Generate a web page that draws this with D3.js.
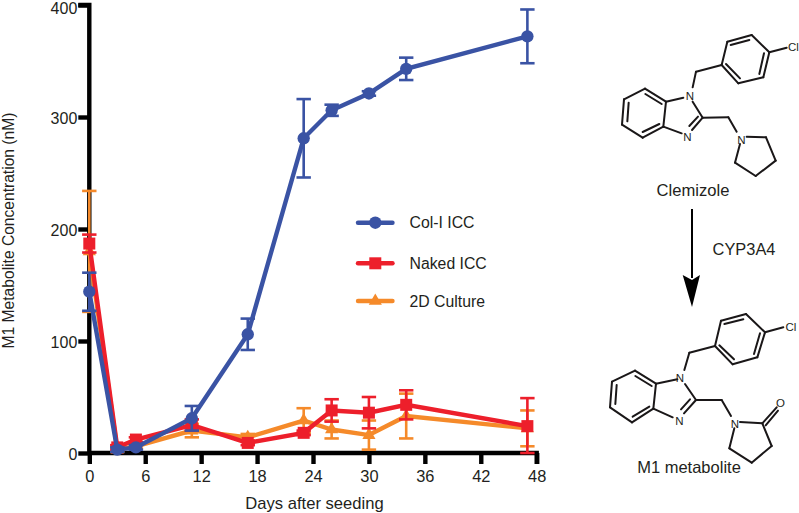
<!DOCTYPE html>
<html><head><meta charset="utf-8">
<script src="https://cdn.jsdelivr.net/npm/d3@7"></script>
<style>html,body{margin:0;padding:0;background:#fff}svg{display:block}text{font-family:"Liberation Sans",Arial,sans-serif;fill:#231f20}</style>
</head><body><svg id="c" width="799" height="513"></svg>
<script>
const days=[0,3,5,11,17,23,26,30,34,47];
const colI=[144,3,5,31,106,281,306,321,343,372];
const colIErr=[17,2,2,11,14,35,5,2,10,24];
const naked=[187,5,12,25,9,18,38,36,43,24];
const nakedErr=[8,2,2,5,2,2,10,14,13,25];
const culture=[180,3,6,20,14,29,21,16,33,22];
const cultureErr=[54,2,2,6,3,11,8,13,20,16];
const xTicks=[0,6,12,18,24,30,36,42,48];
const yTicks=[0,100,200,300,400];
const legendLabels=["Col-I ICC","Naked ICC","2D Culture"];
const colors=["#3a53a4","#ed1f2b","#f58a2a"];
const shapes=[d3.symbolCircle,d3.symbolSquare,d3.symbolTriangle];
const shapeSizes=[120,144,75];
const clemizoleBonds=[
[135,266,198,305],[198,305,190,380],[190,380,128,413],[128,413,66,374],[66,374,72,298],[72,298,135,266],
[136,282,185,312],[178,372,128,396],[82,364,86,308],
[198,305,250,293],[190,380,245,400],[278,305,308,353],[308,353,276,390],[294,350,268,378],
[308,353,385,352],[385,352,410,395],[278,262,288,215],[288,215,365,195],
[365,195,382,125],[382,125,455,105],[455,105,508,157],[508,157,490,232],[490,232,415,250],[415,250,365,195],
[392,135,448,120],[492,160,478,222],[420,235,378,192],
[508,157,560,143],[440,410,498,412],[498,412,527,482],[527,482,467,528],[467,528,405,488],[405,488,420,432]];
const m1Bonds=[
[105,212,168,251],[168,251,160,326],[160,326,96,367],[96,367,30,322],[30,322,36,245],[36,245,105,212],
[106,228,155,258],[148,320,98,350],[46,312,50,255],
[168,251,232,238],[160,326,218,352],[255,252,288,300],[288,300,252,340],[270,298,243,328],
[288,300,365,300],[365,300,393,348],[253,210,268,158],[268,158,345,138],
[345,138,363,62],[363,62,438,42],[438,42,495,97],[495,97,472,172],[472,172,398,193],[398,193,345,138],
[373,72,430,58],[480,100,462,162],[402,178,358,136],
[495,97,550,82],[420,366,487,370],[403,385,388,445],[388,445,455,488],[455,488,515,438],[515,438,487,370],
[487,370,530,322],[497,376,534,332]];
const svg=d3.select("#c");
const x=d3.scaleLinear().domain([0,48]).range([89.3,536.7]);
const y=d3.scaleLinear().domain([0,400]).range([453,5]);
const g=svg.append("g");
const yAxis=d3.axisLeft(y).tickValues(yTicks).tickSize(11).tickPadding(1).tickFormat(d3.format("d"));
const xAxis=d3.axisBottom(x).tickValues(xTicks).tickSize(11).tickPadding(6.3).tickFormat(d3.format("d"));
const ya=g.append("g").attr("transform","translate(89.3,0)").call(yAxis);
const xa=g.append("g").attr("transform","translate(0,453)").call(xAxis);
[ya,xa].forEach(a=>{
  a.selectAll("path").attr("stroke","#000").attr("stroke-width",4.4).attr("fill","none");
  a.selectAll("line").attr("stroke","#000").attr("stroke-width",4.4);
  a.selectAll("text").attr("font-size",16.4).attr("font-family",'"Liberation Sans"').attr("fill","#231f20");
});
ya.selectAll("text").attr("font-size",16).attr("dy",d=>d===400?8.6:6.5);
ya.select("path").attr("d","M-11,5H0V453");
xa.select("path").attr("d","M89.3,0H536.7V11");
const series=[[culture,cultureErr],[naked,nakedErr],[colI,colIErr]];
const idx=[2,1,0];
const line=d3.line();
series.forEach(([v,e],s)=>{
  const c=colors[idx[s]];
  const sg=g.append("g");
  days.forEach((d,i)=>{
    const px=x(d),lo=y(Math.max(v[i]-e[i],0)),hi=y(v[i]+e[i]);
    sg.append("path").attr("d",`M${px},${lo}V${hi}`).attr("stroke",c).attr("stroke-width",2.6).attr("fill","none");
    [lo,hi].forEach(t=>sg.append("path").attr("d",`M${px-7.2},${t}H${px+7.2}`).attr("stroke",c).attr("stroke-width",2.6).attr("fill","none"));
  });
  sg.append("path").attr("d",line(days.map((d,i)=>[x(d),y(v[i])]))).attr("stroke",c).attr("stroke-width",4.4).attr("fill","none");
  days.forEach((d,i)=>sg.append("path").attr("transform",`translate(${x(d)},${y(v[i])})`)
    .attr("d",d3.symbol().type(shapes[idx[s]]).size(shapeSizes[idx[s]])()).attr("fill",c));
});
const legY=[222.7,263.3,301];
legendLabels.forEach((l,i)=>{
  g.append("path").attr("d",`M358,${legY[i]}H392.5`).attr("stroke",colors[i]).attr("stroke-width",4.4).attr("stroke-linecap","round");
  g.append("path").attr("transform",`translate(375.3,${legY[i]})`).attr("d",d3.symbol().type(shapes[i]).size(shapeSizes[i])()).attr("fill",colors[i]);
  g.append("text").attr("x",409.5).attr("y",legY[i]+5.6).attr("font-size",15.8).text(l);
});
g.append("text").attr("x",314.5).attr("y",508.5).attr("text-anchor","middle").attr("font-size",16.6).text("Days after seeding");
g.append("text").attr("transform","translate(13.5,230.5) rotate(-90)").attr("text-anchor","middle").attr("font-size",15.6).text("M1 Metabolite Concentration (nM)");
const mol=(bonds,ox,oy)=>{
  const m=svg.append("g").attr("stroke","#1a1718").attr("stroke-width",2).attr("stroke-linecap","round").attr("fill","none");
  bonds.forEach(b=>m.append("line").attr("x1",ox+b[0]/3).attr("y1",oy+b[1]/3).attr("x2",ox+b[2]/3).attr("y2",oy+b[3]/3));
};
mol(clemizoleBonds,600,0);mol(m1Bonds,600,300);
const atoms=[["N",690,100],["N",687.5,141],["N",741.5,144],["Cl",793.5,51],["N",680,382],["N",679.5,425],["N",735,428],["Cl",791,331],["O",780.5,407]];
atoms.forEach(a=>svg.append("text").attr("x",a[1]).attr("y",a[2]).attr("text-anchor","middle").attr("font-size",11.5).text(a[0]));
svg.append("text").attr("x",693).attr("y",196).attr("text-anchor","middle").attr("font-size",16.6).text("Clemizole");
svg.append("text").attr("x",689).attr("y",473).attr("text-anchor","middle").attr("font-size",16.5).text("M1 metabolite");
svg.append("text").attr("x",744).attr("y",255).attr("text-anchor","middle").attr("font-size",16.4).text("CYP3A4");
svg.append("path").attr("d","M692,209V278").attr("stroke","#000").attr("stroke-width",2);
svg.append("path").attr("d","M682.7,275L692,307L700,275L692,280Z").attr("fill","#000");
</script></body></html>
